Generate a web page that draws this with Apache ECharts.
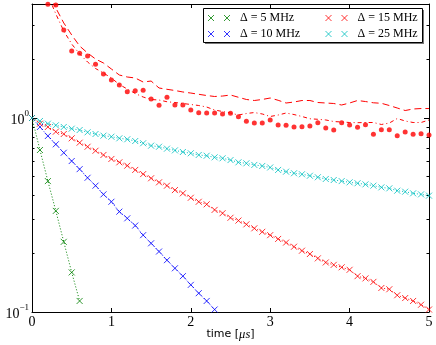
<!DOCTYPE html>
<html>
<head>
<meta charset="utf-8">
<script src="https://cdn.jsdelivr.net/npm/echarts@6.0.0/dist/echarts.min.js"></script>
<style>
html,body{margin:0;padding:0;background:#fff;}
#chart{width:436px;height:345px;}
</style>
</head>
<body>
<div id="chart"></div>
<script>
// time axis [us], step 0.1
var tFull = [0,0.1,0.2,0.3,0.4,0.5,0.6,0.7,0.8,0.9,1.0,1.1,1.2,1.3,1.4,1.5,1.6,1.7,1.8,1.9,2.0,
  2.1,2.2,2.3,2.4,2.5,2.6,2.7,2.8,2.9,3.0,3.1,3.2,3.3,3.4,3.5,3.6,3.7,3.8,3.9,4.0,
  4.1,4.2,4.3,4.4,4.5,4.6,4.7,4.8,4.9,5.0];

// decays (x markers + dotted line)
var d5 = [1.0,0.684,0.473,0.332,0.230,0.160,0.114];
var d10 = [1.0,0.899,0.808,0.732,0.662,0.600,0.545,0.492,0.448,0.404,0.370,0.329,0.304,0.279,
  0.249,0.226,0.205,0.185,0.168,0.153,0.138,0.125,0.114,0.103];
var d15 = [1.0,0.935,0.899,0.850,0.827,0.786,0.746,0.711,0.678,0.645,0.615,0.591,0.568,0.540,
  0.514,0.489,0.466,0.448,0.425,0.409,0.388,0.370,0.359,0.336,0.323,0.306,0.296,0.283,0.270,
  0.259,0.249,0.238,0.228,0.217,0.207,0.199,0.189,0.180,0.175,0.170,0.165,0.153,0.149,0.143,
  0.133,0.131,0.122,0.118,0.114,0.109,0.103];
var d25 = [1.0,0.965,0.935,0.917,0.899,0.881,0.867,0.844,0.827,0.811,0.801,0.786,0.777,0.761,
  0.741,0.720,0.711,0.695,0.681,0.668,0.658,0.645,0.639,0.627,0.620,0.607,0.591,0.584,0.573,
  0.566,0.556,0.540,0.529,0.519,0.513,0.504,0.495,0.485,0.479,0.473,0.466,0.461,0.455,0.448,
  0.439,0.434,0.422,0.417,0.409,0.404,0.398];

// red curves above 1, from t = 0.2
var redDots = [3.855,3.824,2.842,2.215,2.156,2.087,1.891,1.686,1.570,1.480,1.366,1.382,1.389,
  1.253,1.163,1.279,1.167,1.167,1.100,1.065,1.061,1.061,1.049,1.057,1.016,0.962,0.942,0.942,
  0.977,0.920,0.917,0.899,0.902,0.909,0.946,0.888,0.867,0.946,0.920,0.896,0.924,0.824,0.870,
  0.870,0.811,0.847,0.824,0.830,0.817];
var redDashed = [4.57,3.69,3.09,2.68,2.35,2.163,2.015,1.921,1.789,1.666,1.627,1.608,1.533,
  1.551,1.428,1.406,1.386,1.362,1.345,1.325,1.306,1.291,1.298,1.314,1.279,1.246,1.231,1.246,
  1.268,1.234,1.195,1.209,1.231,1.231,1.202,1.195,1.188,1.167,1.195,1.231,1.216,1.198,1.191,
  1.160,1.126,1.093,1.113,1.119,1.119];
var redDashDot = [4.3,3.44,2.81,2.407,2.138,1.944,1.800,1.706,1.608,1.488,1.411,1.338,1.283,
  1.246,1.238,1.213,1.202,1.188,1.174,1.160,1.139,1.100,1.080,1.061,1.036,1.055,1.067,1.049,
  1.018,1.036,1.061,1.042,1.018,0.991,0.985,0.977,0.959,0.954,0.948,0.946,0.948,0.948,0.926,
  0.942,0.994,0.965,0.948,0.948,0.977];

var names = ['Δ = 5 MHz','Δ = 10 MHz','Δ = 15 MHz','Δ = 25 MHz'];
var colors = ['#008000','#0000ff','#ff0000','#00bfbf'];
var xTicks = [0,1,2,3,4,5];
var yMajor = [0.1,1];
var yMinor = [0.2,0.3,0.4,0.5,0.6,0.7,0.8,0.9,2,3];

var serif = 'Liberation Serif';
var crossSym = 'path://M0,0L10,10M10,0L0,10';
var legendSym = 'path://M0,0L6,6M6,0L0,6M16,0L22,6M22,0L16,6';

function pairs(t, v){
  var out = [];
  for (var i = 0; i < v.length; i++) out.push([t[i], v[i]]);
  return out;
}

var decays = [d5, d10, d15, d25];
var tUpper = tFull.slice(2);
var series = [];

series.push({type:'line', data:pairs(tUpper, redDashed), symbol:'none', z:2,
  lineStyle:{color:'#ff0000', width:1, type:[7,4]}});
series.push({type:'line', data:pairs(tUpper, redDashDot), symbol:'none', z:2,
  lineStyle:{color:'#ff0000', width:1, type:[4,3,1,3]}});
series.push({type:'scatter', data:pairs(tUpper, redDots), symbol:'circle', symbolSize:5, z:3,
  itemStyle:{color:'#ff0000'}});

for (var k = 0; k < 4; k++) {
  series.push({type:'line', data:pairs(tFull, decays[k]), symbol:'none', z:2,
    lineStyle:{color:colors[k], width:1, type:[1,2]}});
  series.push({type:'scatter', name:names[k], data:pairs(tFull, decays[k]),
    symbol:crossSym, symbolSize:6, z:3,
    itemStyle:{color:colors[k], borderColor:colors[k], borderWidth:1}});
}

function legendItems(idx){
  return idx.map(function(i){
    return {name:names[i], icon:legendSym,
      itemStyle:{color:colors[i], borderColor:colors[i], borderWidth:1}};
  });
}

var legendBase = {
  orient:'vertical', top:11, padding:0, itemGap:2, itemWidth:22, itemHeight:6,
  selectedMode:false,
  textStyle:{fontFamily:serif, fontSize:12, color:'#000', lineHeight:14, padding:[0,0,0,5]}
};

var labelRich = {
  b:{fontFamily:serif, fontSize:14, color:'#000', lineHeight:18, verticalAlign:'bottom'},
  s:{fontFamily:serif, fontSize:9, color:'#000', lineHeight:10, verticalAlign:'top'}
};

function yAx(pos, ticks, len, showLine, showLabel){
  return {
    type:'log', logBase:10, min:0.1, max:3.87, position:pos, offset:0,
    axisLine:{show:showLine, lineStyle:{color:'#000', width:1}},
    axisTick:{show:true, inside:true, length:len, customValues:ticks,
      lineStyle:{color:'#000', width:1}},
    axisLabel:{show:showLabel, customValues:yMajor, margin:3,
      formatter:function(v){ return v < 0.5 ? '{b|10}{s|\u22121}' : '{b|10}{s|0}'; },
      rich:labelRich},
    splitLine:{show:false}
  };
}

function xAx(pos, showLabel){
  return {
    type:'value', min:0, max:5, interval:1, position:pos,
    axisLine:{show:true, onZero:false, lineStyle:{color:'#000', width:1}},
    axisTick:{show:true, inside:true, length:4, lineStyle:{color:'#000', width:1}},
    axisLabel:{show:showLabel, margin:3, fontFamily:serif, fontSize:14, color:'#000',
      customValues:xTicks},
    splitLine:{show:false},
    name: showLabel ? '{a|time [}{m|\u03bcs}{a|]}' : '',
    nameLocation:'middle', nameGap:16, nameMoveOverlap:false,
    nameTextStyle:{rich:{
      a:{fontFamily:'DejaVu Sans', fontSize:11, color:'#000'},
      m:{fontFamily:serif, fontStyle:'italic', fontSize:12.5, color:'#000'}
    }}
  };
}

var chart = echarts.init(document.getElementById('chart'), null, {renderer:'canvas'});
chart.setOption({
  animation:false,
  backgroundColor:'#fff',
  grid:{left:32, right:7, top:4, bottom:33, containLabel:false, outerBoundsMode:'none'},
  xAxis:[xAx('bottom', true), xAx('top', false)],
  yAxis:[
    yAx('left', yMajor, 5, true, true),
    yAx('left', yMinor, 2.5, false, false),
    yAx('right', yMajor, 5, true, false),
    yAx('right', yMinor, 2.5, false, false)
  ],
  legend:[
    Object.assign({left:207.5, data:legendItems([0,1])}, legendBase),
    Object.assign({left:325, data:legendItems([2,3])}, legendBase)
  ],
  graphic:[
    {type:'rect', z:1, shape:{x:205, y:10, width:219, height:34}, style:{fill:'#777'}},
    {type:'rect', z:1, shape:{x:203.5, y:8.5, width:219, height:34},
      style:{fill:'#fff', stroke:'#000', lineWidth:1}}
  ],
  series:series
});
</script>
</body>
</html>
